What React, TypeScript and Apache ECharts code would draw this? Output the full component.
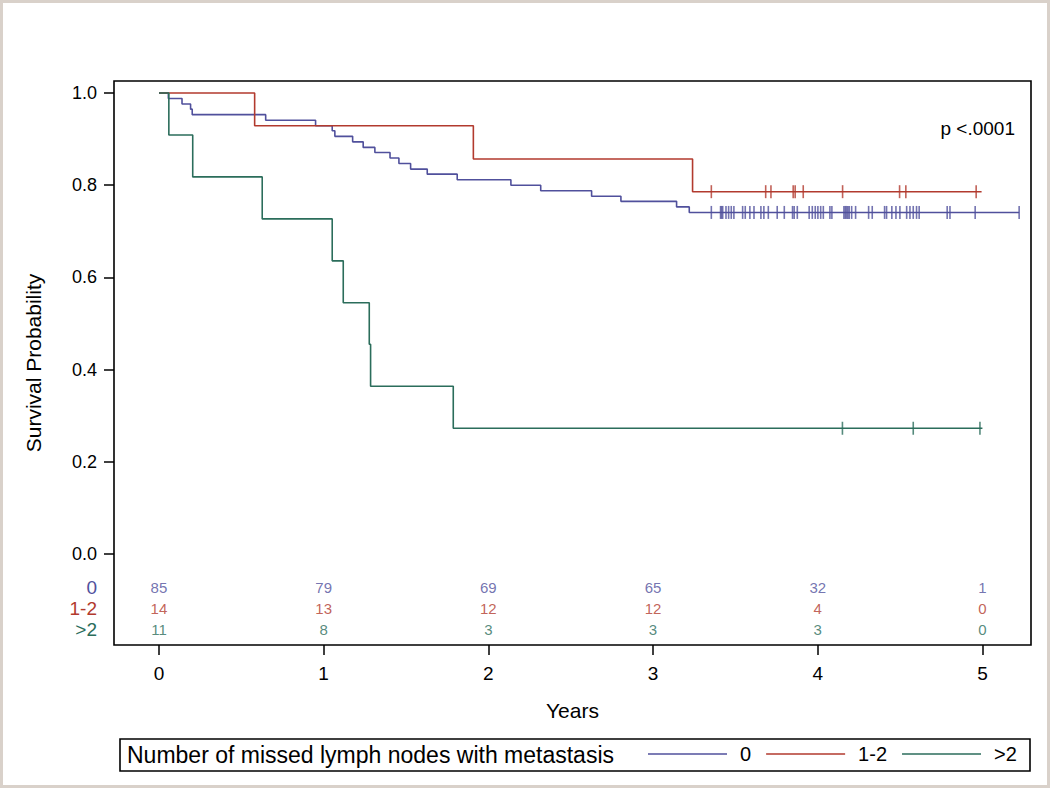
import React, { useEffect, useRef } from "react";
import * as echarts from "echarts";

// ---- data ----
const groupNames = ["0", "1-2", ">2"];
const groupColors = ["#50509c", "#b23a2e", "#2b6d5b"];

// Kaplan-Meier steps (time in years, survival probability)
const timesNone = [0, 0.057, 0.14, 0.192, 0.202, 0.648, 0.951, 1.052, 1.068, 1.176, 1.24, 1.311, 1.403, 1.457, 1.528, 1.629, 1.811, 2.137, 2.318, 2.627, 2.805, 3.143, 3.22, 5.223];
const survNone = [1, 0.988, 0.976, 0.965, 0.953, 0.941, 0.929, 0.918, 0.906, 0.894, 0.882, 0.871, 0.859, 0.847, 0.835, 0.824, 0.812, 0.8, 0.788, 0.776, 0.765, 0.753, 0.741, 0.741];

const timesFew = [0, 0.581, 1.909, 3.24, 4.995];
const survFew = [1, 0.929, 0.857, 0.786, 0.786];

const timesMany = [0, 0.06, 0.205, 0.627, 1.052, 1.119, 1.277, 1.285, 1.787, 5.0];
const survMany = [1, 0.909, 0.818, 0.727, 0.636, 0.545, 0.455, 0.364, 0.273, 0.273];

// censoring times
const censorNone = [3.354, 3.41, 3.416, 3.423, 3.443, 3.459, 3.475, 3.491, 3.544, 3.56, 3.588, 3.613, 3.655, 3.673, 3.7, 3.754, 3.797, 3.847, 3.857, 3.876, 3.948, 3.967, 3.985, 4.001, 4.018, 4.034, 4.074, 4.086, 4.159, 4.167, 4.175, 4.183, 4.191, 4.206, 4.23, 4.309, 4.331, 4.406, 4.418, 4.45, 4.475, 4.499, 4.54, 4.56, 4.58, 4.6, 4.616, 4.786, 4.803, 4.956, 5.223];
const censorFew = [3.354, 3.684, 3.716, 3.851, 3.863, 3.912, 4.151, 4.497, 4.535, 4.962];
const censorMany = [4.15, 4.58, 4.985];

// number at risk table
const riskYears = [0, 1, 2, 3, 4, 5];
const riskNone = [85, 79, 69, 65, 32, 1];
const riskFew = [14, 13, 12, 12, 4, 0];
const riskMany = [11, 8, 3, 3, 3, 0];

const xTicks = [0, 1, 2, 3, 4, 5];
const yTicks = [0, 0.2, 0.4, 0.6, 0.8, 1.0];
const pText = "p <.0001";
const legendTitle = "Number of missed lymph nodes with metastasis";

// ---- layout constants ----
const FONT = "'Liberation Sans', Arial, sans-serif";
const riskRowY = [-0.0716, -0.117, -0.163];

export default function App() {
  const ref = useRef<HTMLDivElement>(null);

  useEffect(() => {
    if (!ref.current) return;
    const chart = echarts.init(ref.current, undefined, { renderer: "svg" });

    const curves = [
      { t: timesNone, s: survNone, c: censorNone },
      { t: timesFew, s: survFew, c: censorFew },
      { t: timesMany, s: survMany, c: censorMany },
    ];
    const risks = [riskNone, riskFew, riskMany];

    const lineSeries = curves.map((cv, i) => ({
      name: groupNames[i],
      type: "line",
      step: "end",
      symbol: "none",
      data: cv.t.map((t, k) => [t, cv.s[k]]),
      lineStyle: { color: groupColors[i], width: 1.6 },
      itemStyle: { color: groupColors[i] },
      z: 3,
    }));

    const censorSeries = curves.map((cv, i) => ({
      name: "censor " + groupNames[i],
      type: "scatter",
      symbol: "rect",
      symbolSize: [1.6, 13],
      data: cv.c.map((t) => [t, cv.s[cv.s.length - 1]]),
      itemStyle: { color: groupColors[i] },
      silent: true,
      z: 4,
    }));

    const riskSeries = risks.map((r, i) => ({
      name: "risk " + groupNames[i],
      type: "scatter",
      symbolSize: 1,
      itemStyle: { color: "rgba(0,0,0,0)" },
      data: riskYears.map((y, k) => [y, riskRowY[i], r[k]]),
      label: {
        show: true,
        position: "inside",
        formatter: (p: any) => String(p.value[2]),
        color: groupColors[i],
        fontSize: 15,
        fontFamily: FONT,
      },
      silent: true,
      z: 5,
    }));

    const rowLabelFor = (v: number) => {
      for (let i = 0; i < riskRowY.length; i++) {
        if (Math.abs(v - riskRowY[i]) < 1e-6) return "{r" + i + "|" + groupNames[i] + "}";
      }
      return "{t|" + v.toFixed(1) + "}";
    };

    const option: any = {
      animation: false,
      backgroundColor: "#ffffff",
      textStyle: { fontFamily: FONT },
      grid: {
        left: 114,
        top: 81,
        width: 917,
        height: 564,
        show: true,
        borderColor: "#000",
        borderWidth: 1.6,
        containLabel: false,
      },
      xAxis: {
        type: "value",
        min: -0.273,
        max: 5.295,
        name: "Years",
        nameLocation: "middle",
        nameGap: 55,
        nameTextStyle: { fontSize: 21, color: "#000", fontFamily: FONT, verticalAlign: "top" },
        axisLine: { show: false, onZero: false },
        splitLine: { show: false },
        axisTick: { show: true, customValues: xTicks, length: 10, lineStyle: { color: "#000", width: 1.5 } },
        axisLabel: {
          customValues: xTicks,
          formatter: (v: number) => String(Math.round(v)),
          fontSize: 19,
          color: "#000",
          margin: 19,
        },
      },
      yAxis: {
        type: "value",
        min: -0.197,
        max: 1.026,
        name: "Survival Probability",
        nameLocation: "middle",
        nameGap: 70,
        nameRotate: 90,
        nameTextStyle: { fontSize: 21, color: "#000", fontFamily: FONT },
        axisLine: { show: false, onZero: false },
        splitLine: { show: false },
        axisTick: { show: true, customValues: yTicks, length: 10, lineStyle: { color: "#000", width: 1.5 } },
        axisLabel: {
          customValues: [...yTicks, ...riskRowY],
          formatter: rowLabelFor,
          margin: 17,
          rich: {
            t: { fontSize: 18, color: "#000", fontFamily: FONT },
            r0: { fontSize: 19, color: groupColors[0], fontFamily: FONT },
            r1: { fontSize: 19, color: groupColors[1], fontFamily: FONT },
            r2: { fontSize: 19, color: groupColors[2], fontFamily: FONT },
          },
        },
      },
      legend: {
        data: groupNames,
        left: 648,
        top: 744,
        padding: 0,
        icon: "rect",
        itemWidth: 79,
        itemHeight: 1.6,
        itemGap: 15,
        textStyle: { fontSize: 20, color: "#000", fontFamily: FONT, padding: [0, 0, 0, 8] },
        selectedMode: false,
      },
      graphic: [
        {
          type: "rect",
          shape: { x: 1.5, y: 1.5, width: 1047, height: 785 },
          style: { fill: "none", stroke: "#d9d1ca", lineWidth: 3 },
          silent: true,
        },
        {
          type: "rect",
          shape: { x: 120, y: 739, width: 910, height: 32 },
          style: { fill: "none", stroke: "#000", lineWidth: 1.6 },
          silent: true,
        },
        {
          type: "text",
          x: 127,
          y: 755,
          style: { text: legendTitle, fontSize: 23, fontFamily: FONT, fill: "#000", align: "left", verticalAlign: "middle" },
          silent: true,
        },
        {
          type: "text",
          x: 1015,
          y: 128,
          style: { text: pText, fontSize: 19, fontFamily: FONT, fill: "#000", align: "right", verticalAlign: "middle" },
          silent: true,
        },
      ],
      series: [...lineSeries, ...censorSeries, ...riskSeries],
    };

    chart.setOption(option);
    return () => chart.dispose();
  }, []);

  return (
    <div
      ref={ref}
      style={{ position: "absolute", left: 0, top: 0, width: 1050, height: 788, background: "#fff" }}
    />
  );
}
